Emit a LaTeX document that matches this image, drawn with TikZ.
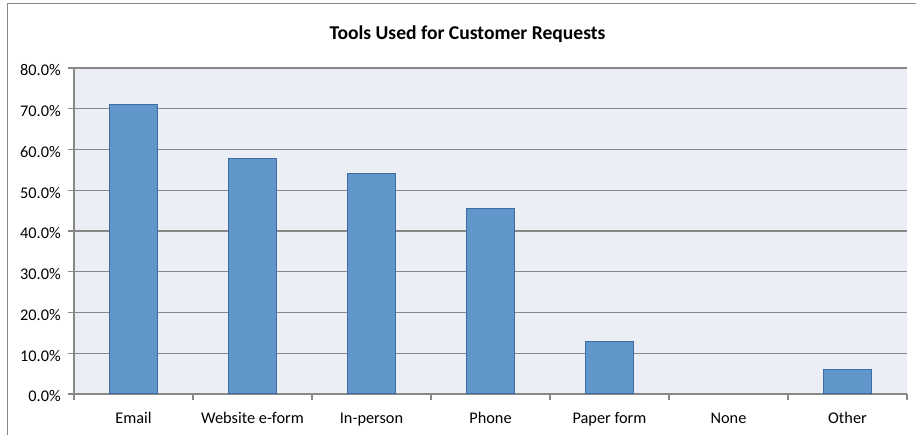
\documentclass[tikz,border=0pt]{standalone}
\usepackage{fontspec}
\setmainfont{Carlito}
\usepackage{tikz}
\usetikzlibrary{positioning}
\definecolor{plotbg}{RGB}{235,239,245}
\definecolor{barfill}{RGB}{97,150,203}
\definecolor{barline}{RGB}{62,108,164}
\definecolor{gridgray}{RGB}{136,136,136}

\begin{document}
\begin{tikzpicture}[x=1pt,y=1pt,
        every node/.style={font=\fontsize{16.3}{19}\selectfont},
        gridline/.style={draw=gridgray,line width=1.1pt},
        bar/.style={fill=barfill,draw=barline,line width=1pt},
        ticklabel/.style={anchor=base east,inner sep=0pt,yshift=-7.9pt},
        catlabel/.style={anchor=base,inner sep=0pt},
        charttitle/.style={anchor=base,inner sep=0pt,font=\fontsize{19.6}{23}\selectfont\bfseries}]

  \useasboundingbox (0,0) rectangle (916,435);
  \draw[gridgray, line width=1pt] (7,0) -- (7,431) -- (916,431);

  \node[charttitle] (title) at (467.5,395) {Tools Used for Customer Requests};

  \begin{scope}[shift={(74,41)}, x=119pt, y=4.075pt]
    \fill[plotbg] (0,0) rectangle (7,80);
    \foreach \v in {0,10,...,80} {
      \draw[gridline] (-0.05,\v) -- (7,\v);
      \node[ticklabel] (y\v) at (-0.11,\v) {\v.0\%};
    }
    \draw[gridline] (0,0) -- (0,80);
    \foreach \i in {0,...,7}
      \draw[gridline] (\i,0) -- (\i,-1.5);
    \foreach \name/\val [count=\i] in {Email/71.1, Website e-form/57.7, In-person/54.1,
        Phone/45.5, Paper form/12.8, None/0, Other/6.0} {
      \ifdim\val pt>0pt
        \draw[bar] (\i-0.7,0) rectangle (\i-0.3,\val);
      \fi
      \node[catlabel] (cat\i) at (\i-0.5,-7.12) {\name};
    }
  \end{scope}

\end{tikzpicture}
\end{document}
